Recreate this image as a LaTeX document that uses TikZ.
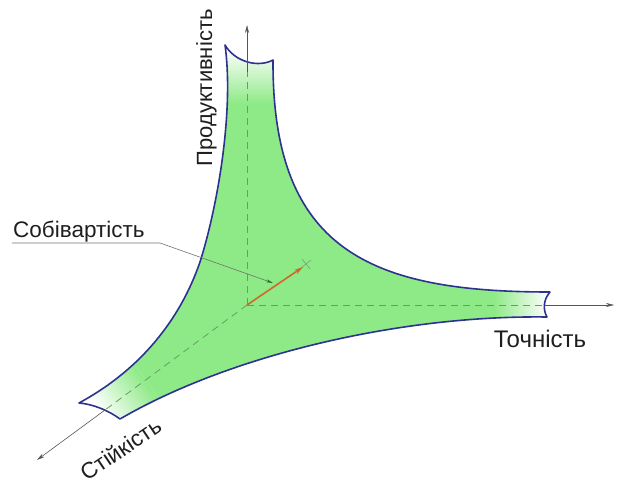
\documentclass[tikz,border=0pt]{standalone}
\usepackage{fontspec}
\setmainfont{Liberation Sans}
\usetikzlibrary{arrows.meta,fadings}
\definecolor{fillgreen}{RGB}{142,234,134}
\definecolor{edgeblue}{RGB}{45,50,145}
\definecolor{dashgreen}{RGB}{100,160,100}
\definecolor{axisgray}{RGB}{85,85,85}
\definecolor{costorange}{RGB}{205,105,40}
\definecolor{leadgreen}{RGB}{40,110,40}
\definecolor{leadgray}{RGB}{110,115,110}
\definecolor{txt}{RGB}{30,30,30}
\newcommand\trishape{(225,432) .. controls (235,415) and (258,409) .. (273,417)
  .. controls (272,227) and (370,185) .. (550,185)
  .. controls (543,177) and (543,167) .. (547,160)
  .. controls (400,162) and (230,122) .. (120,58)
  .. controls (108,67) and (92,73) .. (79,74)
  .. controls (140,107) and (180,157) .. (200,215)
  .. controls (218,272) and (234,367) .. (225,432) -- cycle}
\begin{tikzfadingfrompicture}[name=tipfade,x=1pt,y=1pt]
  \shade[left color=white,right color=black] (0,-60) rectangle (55,60);
  \fill[white] (-55,-60) rectangle (0.5,60);
\end{tikzfadingfrompicture}
\begin{document}
\begin{tikzpicture}[x=1pt,y=1pt,
  dashaxis/.style={dashgreen,line width=0.8pt,dash pattern=on 7pt off 5pt},
  solidaxis/.style={axisgray,line width=0.6pt},
  axistip/.style={-{Stealth[length=8pt,width=4pt]}},
  label/.style={font=\fontsize{22.5}{26}\selectfont,text=txt,inner sep=0pt}]
\useasboundingbox (0,0) rectangle (617,477);
\coordinate (O) at (247,172);
\coordinate (topin) at (247,405);
\coordinate (toptip) at (247,452);
\coordinate (rightin) at (545,172);
\coordinate (righttip) at (614,172);
\coordinate (diagin) at (105,67);
\coordinate (diagtip) at (37,17);
\coordinate (costtip) at (303,210);
\coordinate (xmark) at (306,213);
\coordinate (leadstart) at (12,234);
\coordinate (leadbend) at (160,234);
\coordinate (leadtip) at (273,194);
% fill
\fill[fillgreen] \trishape;
\begin{scope}
  \clip \trishape;
  \fill[white,path fading=tipfade,fit fading=false,
    fading transform={shift={(247,428)},rotate=-90}] (190,360) rectangle (310,470);
  \fill[white,path fading=tipfade,fit fading=false,
    fading transform={shift={(548,172)},rotate=180}] (470,130) rectangle (600,210);
  \fill[white,path fading=tipfade,fit fading=false,
    fading transform={shift={(100,66)},rotate=35.8}] (40,20) rectangle (190,130);
\end{scope}
% dashed axes
\draw[dashaxis] (O) -- (topin);
\draw[dashaxis] (O) -- (rightin);
\draw[dashaxis] (O) -- (diagin);
% outline
\draw[edgeblue,line width=1.6pt,line join=round] \trishape;
% solid axes
\draw[solidaxis,axistip] (topin) -- (toptip);
\draw[solidaxis,axistip] (rightin) -- (righttip);
\draw[solidaxis,axistip] (diagin) -- (diagtip);
% cost vector
\draw[costorange,line width=1.6pt,-{Stealth[length=9pt,width=5pt]}] (O) -- (costtip);
\draw[dashgreen,line width=0.5pt] ([shift={(-5,-4)}]xmark) -- ([shift={(5,4)}]xmark)
  ([shift={(-4,5)}]xmark) -- ([shift={(4,-5)}]xmark);
% leader
\draw[leadgray,line width=0.6pt,-{Stealth[length=7pt,width=3pt,color=leadgreen]}] (leadstart) -- (leadbend) -- (leadtip);
% labels
\node[label,anchor=base west] (cost) at (13,240) {Собівартість};
\node[label,anchor=base,rotate=90,font=\fontsize{22}{26}\selectfont] (prod) at (212,389) {Продуктивність};
\node[label,anchor=base,font=\fontsize{24}{28}\selectfont] (acc) at (540,130) {Точність};
\node[label,anchor=base,rotate=34] (stab) at (125,21) {Стійкість};
\end{tikzpicture}
\end{document}
